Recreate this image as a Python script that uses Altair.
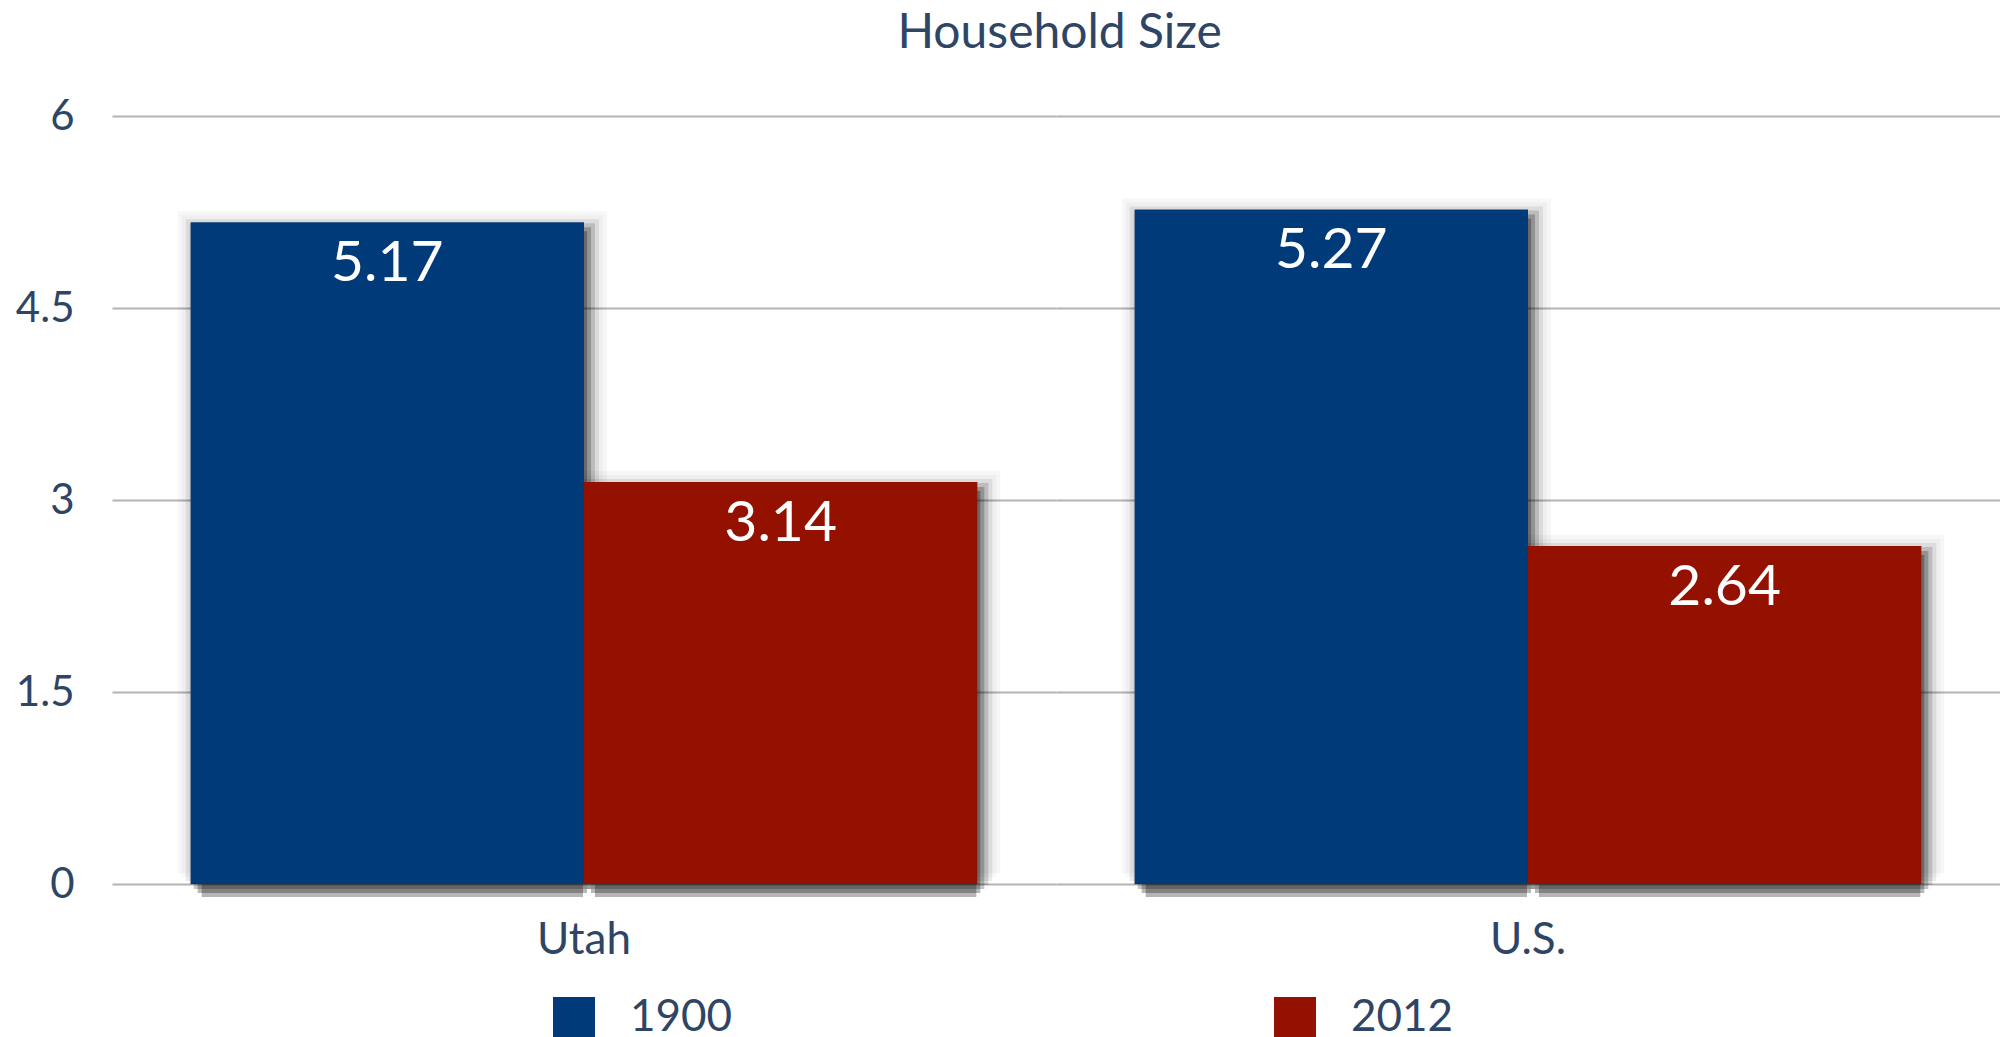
import altair as alt
import pandas as pd

regions = ["Utah", "U.S."]
years = ["1900", "2012"]
values_1900 = [5.17, 5.27]
values_2012 = [3.14, 2.64]
y_ticks = [0, 1.5, 3, 4.5, 6]
colors = ["#003A78", "#941100"]

rows = []
for i, r in enumerate(regions):
    rows.append({"region": r, "year": years[0], "value": values_1900[i]})
    rows.append({"region": r, "year": years[1], "value": values_2012[i]})
df = pd.DataFrame(rows)

TEXT = "#2F4565"
FONT = "Lato"
CELL_W = 944
CELL_H = 768
P_OUTER = 0.2
BW = CELL_W / (2 + 2 * P_OUTER)

xenc = alt.X("year:N", axis=None, scale=alt.Scale(paddingInner=0, paddingOuter=P_OUTER))
yenc = alt.Y("value:Q",
             scale=alt.Scale(domain=[0, 6], nice=False),
             axis=alt.Axis(values=y_ticks, labelExpr="datum.value + ''", title=None, ticks=False,
                           domain=False, labelFontSize=42, labelColor=TEXT, labelFont=FONT,
                           labelPadding=38, gridColor="#B3B3B3", gridWidth=2))

base = alt.Chart(df).encode(x=xenc, y=yenc)

# soft drop shadow built from stacked, progressively larger translucent bars
layers = []
DX, DY = 5, 7
shadow_steps = [(18, 0.03), (14, 0.03), (10, 0.08), (6, 0.145), (2, 0.22), (-2, 0.28), (-6, 0.29)]
for e, op in shadow_steps:
    layers.append(
        base.mark_bar(color="black", opacity=op, xOffset=DX, yOffset=DY - e, y2Offset=DY + e,
                      width=alt.RelativeBandSize((BW + 2 * e) / BW))
    )

bars = base.mark_bar().encode(
    color=alt.Color("year:N", scale=alt.Scale(domain=years, range=colors),
                    legend=alt.Legend(orient="none", legendX=440, legendY=880, direction="horizontal",
                                      title=None, symbolType="square", symbolSize=1764,
                                      symbolStrokeWidth=0, symbolOpacity=1,
                                      labelFontSize=44, labelFont=FONT, labelColor=TEXT,
                                      labelOffset=34, columnPadding=540))
)
labels = base.mark_text(baseline="top", dy=14, color="white", fontSize=57, font=FONT).encode(
    text=alt.Text("value:Q", format=".2f")
)
layers += [bars, labels]

chart = alt.layer(*layers).properties(width=CELL_W, height=CELL_H).facet(
    column=alt.Column("region:N", sort=regions,
                      header=alt.Header(title=None, labelOrient="bottom", labelFontSize=44,
                                        labelFont=FONT, labelColor=TEXT, labelPadding=22))
).properties(
    title=alt.TitleParams("Household Size", fontSize=48, font=FONT, color=TEXT,
                          fontWeight="normal", offset=37, anchor="middle", dx=52)
).configure_view(strokeWidth=0).configure_facet(spacing=0).properties(
    padding={"left": 7, "top": 2, "right": 0, "bottom": 0}
)

chart.save("out.html", embed_options={"renderer": "svg", "actions": False})
